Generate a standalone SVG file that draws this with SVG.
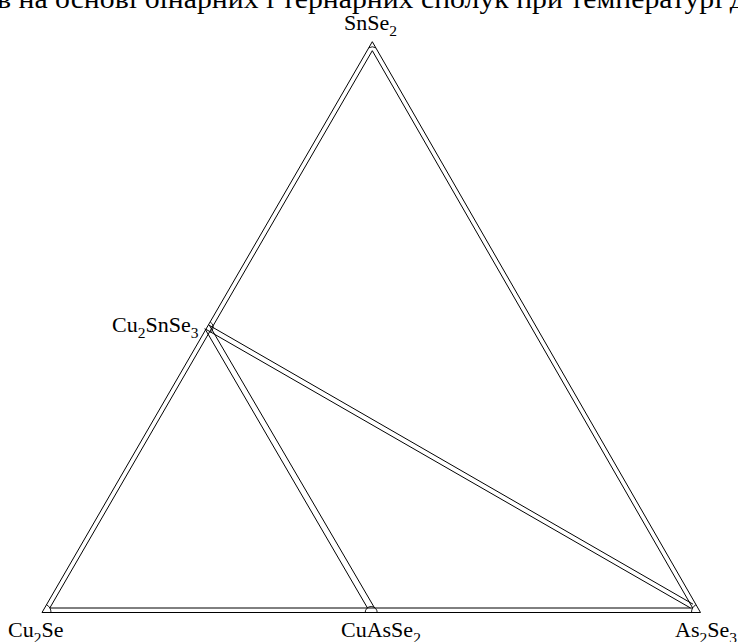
<svg xmlns="http://www.w3.org/2000/svg" width="738" height="642" viewBox="0 0 738 642">
<style>
  .ln { stroke: #000; stroke-width: 1; fill: none; }
  .arc { stroke: #000; stroke-width: 0.9; fill: none; }
  .lbl { font-size: 22px; fill: #000; }
  .sub { font-size: 15.5px; }
  .title { font-size: 28px; fill: #000; }
</style>
<rect width="738" height="642" fill="#fff"/>
<text class="title" font-family="'Liberation Serif', 'Times New Roman', serif" x="-3" y="8" textLength="748" lengthAdjust="spacingAndGlyphs">в на основі бінарних і тернарних сполук при температурі д</text>
<g id="connectors">
  <polygon class="ln" points="372.3,41.7 42,612.5 700.5,612.5"/>
  <polygon class="ln" points="372.3,50.7 49.8,608 692.7,608"/>
  <line class="ln" x1="209.6" y1="325.7" x2="374.6" y2="608"/>
  <line class="ln" x1="204.8" y1="328.5" x2="367.5" y2="608"/>
  <line class="ln" x1="208.5" y1="324.9" x2="693.0" y2="604.2"/>
  <line class="ln" x1="205.9" y1="329.3" x2="690.5" y2="608"/>
</g>
<g id="SnSe2">
  <path class="arc" d="M368.8,47.8 A7,7 0 0 1 375.8,47.8"/>
  <text class="lbl" font-family="'Liberation Serif', 'Times New Roman', serif" x="344" y="30">SnSe<tspan class="sub" dy="6">2</tspan></text>
</g>
<g id="Cu2SnSe3">
  <path class="arc" d="M210.2,321.9 A6,6 0 0 1 210.2,332.3"/>
  <text class="lbl" font-family="'Liberation Serif', 'Times New Roman', serif" x="112" y="332">Cu<tspan class="sub" dy="6">2</tspan><tspan dy="-6">SnSe</tspan><tspan class="sub" dy="6">3</tspan></text>
</g>
<g id="Cu2Se">
  <path class="arc" d="M46.5,604.7 A9,9 0 0 1 51,612.5"/>
  <text class="lbl" font-family="'Liberation Serif', 'Times New Roman', serif" x="8" y="637">Cu<tspan class="sub" dy="6">2</tspan><tspan dy="-6">Se</tspan></text>
</g>
<g id="CuAsSe2">
  <path class="arc" d="M365.2,612.5 A6,6 0 0 1 377.2,612.5"/>
  <text class="lbl" font-family="'Liberation Serif', 'Times New Roman', serif" x="341" y="637">CuAsSe<tspan class="sub" dy="6">2</tspan></text>
</g>
<g id="As2Se3">
  <path class="arc" d="M691.5,612.5 A9,9 0 0 1 696,604.7"/>
  <text class="lbl" font-family="'Liberation Serif', 'Times New Roman', serif" x="675" y="637">As<tspan class="sub" dy="6">2</tspan><tspan dy="-6">Se</tspan><tspan class="sub" dy="6">3</tspan></text>
</g>
</svg>
